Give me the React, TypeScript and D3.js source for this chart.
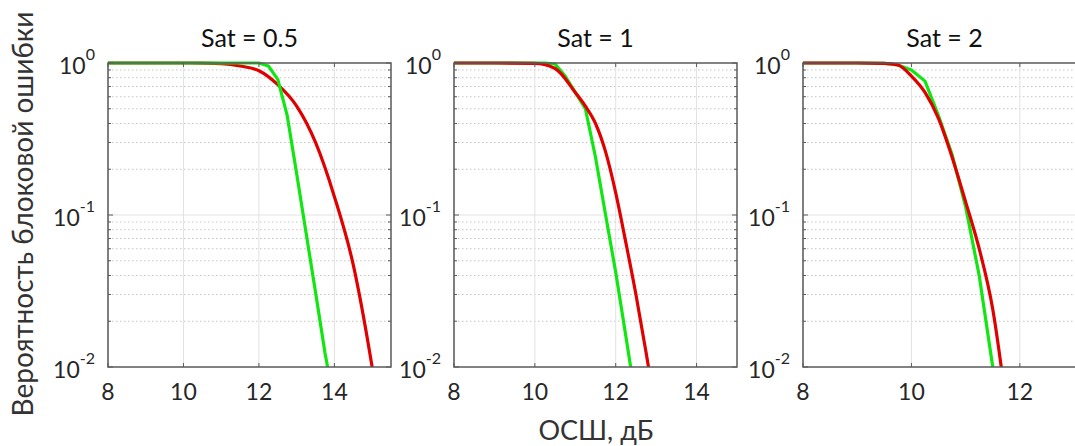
import * as d3 from "d3";
import React from "react";

// SNR (dB) and block error rate
const SNR_G1 = [8, 9, 10, 11, 12, 12.25, 12.5, 12.75, 13, 13.25, 13.5, 13.75, 14];
const PER_G1 = [1, 1, 1, 1, 1, 0.955, 0.78, 0.45, 0.187, 0.076, 0.031, 0.0124, 0.0057];
const SNR_R1 = [8, 9, 10, 10.5, 11, 11.5, 12, 12.5, 13, 13.5, 14, 14.5, 15, 15.25];
const PER_R1 = [1, 1, 1, 0.998, 0.99, 0.955, 0.89, 0.72, 0.52, 0.3, 0.132, 0.047, 0.01, 0.004];

const SNR_G2 = [8, 9, 10, 10.25, 10.5, 10.75, 11, 11.25, 11.5, 11.75, 12, 12.25, 12.5];
const PER_G2 = [1, 1, 1, 1, 0.985, 0.82, 0.64, 0.5, 0.24, 0.1, 0.042, 0.016, 0.006];
const SNR_R2 = [8, 9, 10, 10.5, 11, 11.25, 11.5, 11.75, 12, 12.25, 12.5, 12.75, 13];
const PER_R2 = [1, 1, 0.995, 0.92, 0.64, 0.52, 0.4, 0.26, 0.14, 0.066, 0.03, 0.0125, 0.005];

const SNR_G3 = [8, 9, 9.5, 9.75, 10, 10.25, 10.5, 10.75, 11, 11.25, 11.5, 11.75];
const PER_G3 = [1, 1, 0.995, 0.97, 0.9, 0.76, 0.45, 0.25, 0.113, 0.04, 0.01, 0.0025];
const SNR_R3 = [8, 9, 9.5, 9.75, 10, 10.25, 10.5, 10.75, 11, 11.25, 11.5, 11.75];
const PER_R3 = [1, 1, 0.995, 0.97, 0.82, 0.64, 0.43, 0.24, 0.122, 0.06, 0.024, 0.0056];

const TITLES = ["Sat = 0.5", "Sat = 1", "Sat = 2"];
const X_MAX = [15.5, 15, 13.22];
const X_TICKS = [[8, 10, 12, 14], [8, 10, 12, 14], [8, 10, 12]];
const Y_TICKS = [1, 0.1, 0.01];
const Y_EXP = ["0", "-1", "-2"];

const PANEL_LEFT = [108, 454, 803];
const PANEL_W = 283;
const TOP = 63;
const BOTTOM = 367;

const GREEN = "#12e612";
const RED = "#e00000";
const AXIS = "#5a5a5a";
const TEXT = "#262626";

const series = [
  { g: [SNR_G1, PER_G1], r: [SNR_R1, PER_R1], greenOnTop: true },
  { g: [SNR_G2, PER_G2], r: [SNR_R2, PER_R2], greenOnTop: false },
  { g: [SNR_G3, PER_G3], r: [SNR_R3, PER_R3], greenOnTop: false },
];

const minorTicks: number[] = [];
[0.01, 0.1].forEach((d) => {
  for (let k = 2; k <= 9; k++) minorTicks.push(d * k);
});

function Panel({ i }: { i: number }) {
  const left = PANEL_LEFT[i];
  const right = left + PANEL_W;
  const x = d3.scaleLinear().domain([8, X_MAX[i]]).range([left, right]);
  const y = d3.scaleLog().domain([0.01, 1]).range([BOTTOM, TOP]);

  const smooth = d3
    .line<[number, number]>()
    .x((d) => x(d[0]))
    .y((d) => y(d[1]))
    .curve(d3.curveMonotoneX);
  const straight = d3
    .line<[number, number]>()
    .x((d) => x(d[0]))
    .y((d) => y(d[1]));

  const s = series[i];
  const gPts = s.g[0].map((v, j) => [v, s.g[1][j]] as [number, number]);
  const rPts = s.r[0].map((v, j) => [v, s.r[1][j]] as [number, number]);
  const clipId = `clip${i}`;

  const green = <path key="g" d={straight(gPts) || ""} fill="none" stroke={GREEN} strokeWidth={3.2} strokeLinejoin="round" />;
  const red = <path key="r" d={smooth(rPts) || ""} fill="none" stroke={RED} strokeWidth={3.2} strokeLinejoin="round" />;

  return (
    <g>
      <defs>
        <clipPath id={clipId}>
          <rect x={left} y={TOP - 2} width={PANEL_W} height={BOTTOM - TOP + 2} />
        </clipPath>
      </defs>
      <rect x={left} y={TOP} width={PANEL_W} height={BOTTOM - TOP} fill="#fff" />
      {/* grid */}
      {minorTicks.map((t) => (
        <line key={"m" + t} x1={left} x2={right} y1={y(t)} y2={y(t)} stroke="#c4c4c4" strokeWidth={1} strokeDasharray="1.5,2.5" />
      ))}
      {X_TICKS[i].map((t) => (
        <line key={"vx" + t} x1={x(t)} x2={x(t)} y1={TOP} y2={BOTTOM} stroke="#e2e2e2" strokeWidth={1} />
      ))}
      <line x1={left} x2={right} y1={y(0.1)} y2={y(0.1)} stroke="#e2e2e2" strokeWidth={1} />

      <g clipPath={`url(#${clipId})`}>{s.greenOnTop ? [red, green] : [green, red]}</g>

      {/* box and ticks */}
      <rect x={left} y={TOP} width={PANEL_W} height={BOTTOM - TOP} fill="none" stroke={AXIS} strokeWidth={1.5} />
      {X_TICKS[i].map((t) => (
        <g key={"tx" + t}>
          <line x1={x(t)} x2={x(t)} y1={BOTTOM} y2={BOTTOM - 4} stroke={AXIS} strokeWidth={1} />
          <line x1={x(t)} x2={x(t)} y1={TOP} y2={TOP + 4} stroke={AXIS} strokeWidth={1} />
          <text x={x(t)} y={BOTTOM + 33} textAnchor="middle" fontSize={23} fill={TEXT}>
            {t}
          </text>
        </g>
      ))}
      {minorTicks.map((t) => (
        <g key={"ty" + t}>
          <line x1={left} x2={left + 3} y1={y(t)} y2={y(t)} stroke={AXIS} strokeWidth={1} />
          <line x1={right} x2={right - 3} y1={y(t)} y2={y(t)} stroke={AXIS} strokeWidth={1} />
        </g>
      ))}
      {Y_TICKS.map((t, j) => (
        <g key={"yl" + t}>
          <line x1={left} x2={left + 5} y1={y(t)} y2={y(t)} stroke={AXIS} strokeWidth={1} />
          <line x1={right} x2={right - 5} y1={y(t)} y2={y(t)} stroke={AXIS} strokeWidth={1} />
          <text x={left - 13} y={y(t) + 11} textAnchor="end" fill={TEXT}>
            <tspan fontSize={23}>10</tspan>
            <tspan fontSize={16} dy={-14}>
              {Y_EXP[j]}
            </tspan>
          </text>
        </g>
      ))}
      <text x={(left + right) / 2} y={47} textAnchor="middle" fontSize={25} fill="#111">
        {TITLES[i]}
      </text>
    </g>
  );
}

export default function App() {
  return (
    <svg
      width={1075}
      height={446}
      style={{ position: "absolute", left: 0, top: 0, background: "#fff" }}
      fontFamily="Lato, 'Open Sans', sans-serif"
    >
      {[0, 1, 2].map((i) => (
        <Panel key={i} i={i} />
      ))}
      <text x={596} y={440} textAnchor="middle" fontSize={27} fill="#333">
        ОСШ, дБ
      </text>
      <text transform="translate(33,214) rotate(-90)" textAnchor="middle" fontSize={28} fill="#333">
        Вероятность блоковой ошибки
      </text>
    </svg>
  );
}
